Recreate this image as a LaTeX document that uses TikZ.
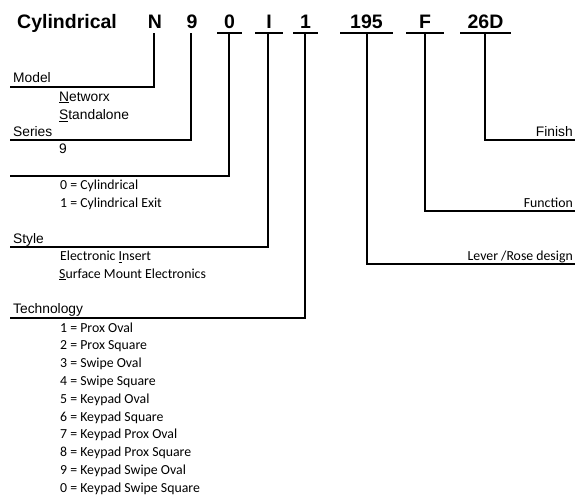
\documentclass[tikz,border=0pt]{standalone}
\usepackage{fontspec}
\setmainfont{Liberation Sans}
\newfontfamily\calfont{Carlito}
\begin{document}
\begin{tikzpicture}[x=1pt,y=-1pt,
  title/.style={font=\fontsize{19.5}{22}\selectfont\bfseries, inner sep=0pt},
  lab/.style={font=\fontsize{13.8}{15}\selectfont, inner sep=0pt, anchor=base west},
  rlab/.style={font=\calfont\fontsize{13.8}{15}\selectfont, inner sep=0pt, anchor=base east},
  rlabA/.style={font=\fontsize{13.8}{15}\selectfont, inner sep=0pt, anchor=base east},
  item/.style={font=\calfont\fontsize{13.8}{15}\selectfont, inner sep=0pt, anchor=base west},
  conn/.style={line width=1.5pt, black},
  bar/.style={line width=1.5pt, black}]
\useasboundingbox (0,0) rectangle (582,498);

% title row
\node[title, anchor=base west] (cyl) at (17,28) {Cylindrical};
\node[title, anchor=base] (tN) at (155,28) {N};
\node[title, anchor=base] (t9) at (192,28) {9};
\node[title, anchor=base] (t0) at (229.5,28) {0};
\node[title, anchor=base] (tI) at (269,28) {I};
\node[title, anchor=base] (t1) at (305.5,28) {1};
\node[title, anchor=base] (t195) at (366.5,28) {195};
\node[title, anchor=base] (tF) at (425,28) {F};
\node[title, anchor=base] (t26D) at (485.5,28) {26D};

% bars under title characters
\coordinate (b0l) at (217,33);   \coordinate (b0r) at (242,33);
\coordinate (bIl) at (255,33);   \coordinate (bIr) at (283,33);
\coordinate (b1l) at (293,33);   \coordinate (b1r) at (318,33);
\coordinate (b195l) at (340,33); \coordinate (b195r) at (393,33);
\coordinate (bFl) at (406,33);   \coordinate (bFr) at (444,33);
\coordinate (b26l) at (460,33);  \coordinate (b26r) at (511,33);
\foreach \a/\b in {b0l/b0r,bIl/bIr,b1l/b1r,b195l/b195r,bFl/bFr,b26l/b26r}
  \draw[bar] (\a) -- (\b);

% vertical starts
\coordinate (vN) at (154,33);
\coordinate (v9) at (191,33);
\coordinate (v0) at (229,33);
\coordinate (vI) at (268,33);
\coordinate (v1) at (305,33);
\coordinate (v195) at (367,33);
\coordinate (vF) at (425,33);
\coordinate (v26) at (485,33);

% line ends
\coordinate (eModel) at (10,87);
\coordinate (eSeries) at (10,140);
\coordinate (eType) at (10,176);
\coordinate (eStyle) at (10,247);
\coordinate (eTech) at (10,318);
\coordinate (eFinish) at (575,140);
\coordinate (eFunction) at (575,211);
\coordinate (eLever) at (575,264);

\draw[conn] (vN) |- (eModel);
\draw[conn] (v9) |- (eSeries);
\draw[conn] (v0) |- (eType);
\draw[conn] (vI) |- (eStyle);
\draw[conn] (v1) |- (eTech);
\draw[conn] (v195) |- (eLever);
\draw[conn] (vF) |- (eFunction);
\draw[conn] (v26) |- (eFinish);

% left labels
\node[lab] (model) at (13,82.5) {Model};
\node[lab] (networx) at (59,101) {\underline{N}etworx};
\node[lab] (standalone) at (59,119.5) {\underline{S}tandalone};
\node[lab] (series) at (13,136) {Series};
\node[lab] (nine) at (59,153) {9};
\node[item] (cyl0) at (60,189) {0 = Cylindrical};
\node[item] (cyl1) at (60,207) {1 = Cylindrical Exit};
\node[lab] (style) at (13,243) {Style};
\node[item] (ei) at (60,260.5) {Electronic \underline{I}nsert};
\node[item] (sme) at (59,278) {\underline{S}urface Mount Electronics};
\node[lab] (tech) at (13,313.5) {Technology};
\foreach \i/\t in {0/1 = Prox Oval,1/2 = Prox Square,2/3 = Swipe Oval,3/4 = Swipe Square,4/5 = Keypad Oval,5/6 = Keypad Square,6/7 = Keypad Prox Oval,7/8 = Keypad Prox Square,8/9 = Keypad Swipe Oval,9/0 = Keypad Swipe Square}
  \node[item] (tech\i) at (60,332+17.8*\i) {\t};

% right labels
\node[rlabA] (finish) at (573,136) {Finish};
\node[rlab] (function) at (573,207) {Function};
\node[rlab] (lever) at (573,260) {Lever /Rose design};
\end{tikzpicture}
\end{document}
